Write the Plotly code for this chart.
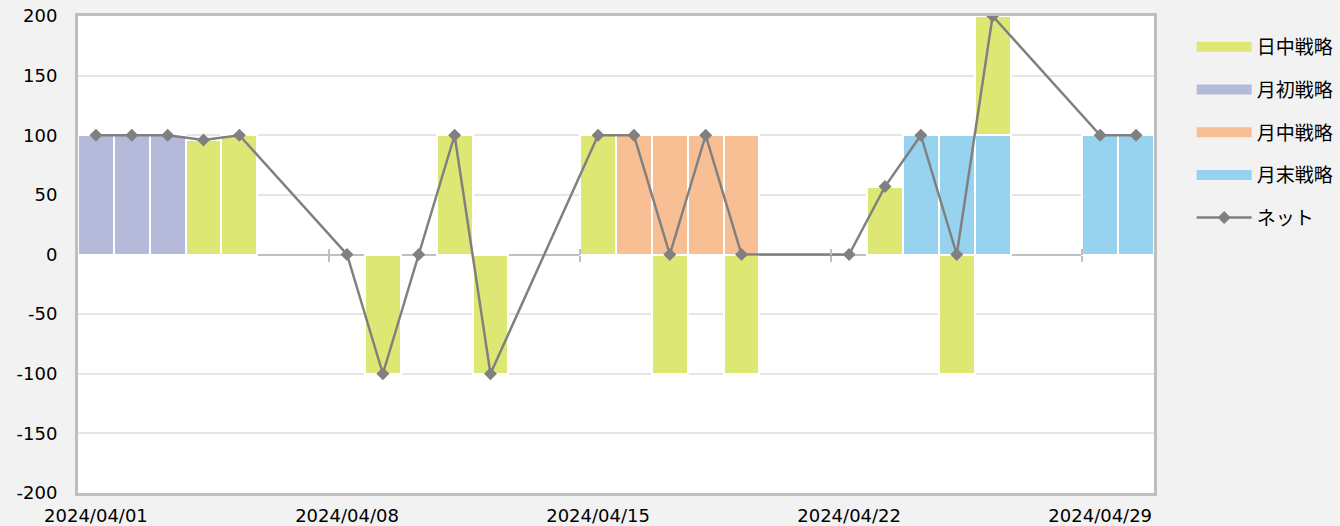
import plotly.graph_objects as go

dates = ["2024-04-01", "2024-04-02", "2024-04-03", "2024-04-04", "2024-04-05",
         "2024-04-08", "2024-04-09", "2024-04-10", "2024-04-11", "2024-04-12",
         "2024-04-15", "2024-04-16", "2024-04-17", "2024-04-18", "2024-04-19",
         "2024-04-22", "2024-04-23", "2024-04-24", "2024-04-25", "2024-04-26",
         "2024-04-29", "2024-04-30"]
nikka = [0, 0, 0, 96, 100, 0, -100, 0, 100, -100, 100, 0, -100, 0, -100, 0, 57, 0, -100, 100, 0, 0]
getsusho = [100, 100, 100, 0, 0, 0, 0, 0, 0, 0, 0, 0, 0, 0, 0, 0, 0, 0, 0, 0, 0, 0]
getchu = [0, 0, 0, 0, 0, 0, 0, 0, 0, 0, 0, 100, 100, 100, 100, 0, 0, 0, 0, 0, 0, 0]
getsumatsu = [0, 0, 0, 0, 0, 0, 0, 0, 0, 0, 0, 0, 0, 0, 0, 0, 0, 100, 100, 100, 100, 100]
net = [100, 100, 100, 96, 100, 0, -100, 0, 100, -100, 100, 100, 0, 100, 0, 0, 57, 100, 0, 200, 100, 100]

series_names = ["日中戦略", "月初戦略", "月中戦略", "月末戦略"]
series_vals = [nikka, getsusho, getchu, getsumatsu]
series_colors = ["#DDE874", "#B5BADB", "#F7BF93", "#97D3EE"]
stack_order = [1, 2, 3, 0]  # bottom to top

y_ticks = [200, 150, 100, 50, 0, -50, -100, -150, -200]
x_label_dates = ["2024-04-01", "2024-04-08", "2024-04-15", "2024-04-22", "2024-04-29"]
x_boundaries = ["2024-04-07 12:00", "2024-04-14 12:00", "2024-04-21 12:00", "2024-04-28 12:00"]

DAY_MS = 86400000
FONT = "DejaVu Sans"
CJK = "Noto Sans CJK JP"

fig = go.Figure()
for i in stack_order:
    name, vals, col = series_names[i], series_vals[i], series_colors[i]
    xs = [d for d, v in zip(dates, vals) if v != 0]
    ys = [v for v in vals if v != 0]
    fig.add_trace(go.Bar(x=xs, y=ys, name=name, width=DAY_MS,
                         marker=dict(color=col, line=dict(color="white", width=2)),
                         showlegend=False))
for name, col in zip(series_names, series_colors):
    # legend swatch
    fig.add_trace(go.Scatter(x=[None], y=[None], mode="lines", name=name,
                             line=dict(color=col, width=10), legendgroup=name))

fig.add_trace(go.Scatter(x=dates, y=net, mode="lines+markers", name="ネット",
                         line=dict(color="#808080", width=2.5),
                         marker=dict(symbol="diamond", size=10, color="#808080"),
                         legendgroup="net"))

# tick marks on the zero line at category boundaries
for ax in ("x2", "x3"):
    fig.add_trace(go.Scatter(x=[None], y=[None], xaxis=ax, showlegend=False, hoverinfo="skip"))

rng = ["2024-03-31 12:00", "2024-04-30 12:00"]
fig.update_layout(
    width=1340, height=526,
    barmode="relative", bargap=0,
    paper_bgcolor="#F2F2F2", plot_bgcolor="white",
    margin=dict(l=78, r=186, t=16, b=33, autoexpand=False),
    font=dict(family=FONT, size=18, color="black"),
    showlegend=True,
    legend=dict(x=1.035, xanchor="left", y=0.975, yanchor="top",
                font=dict(family=CJK, size=19, color="black"),
                tracegroupgap=15, itemwidth=55, bgcolor="rgba(0,0,0,0)"),
    xaxis=dict(type="date", range=rng, tickvals=x_label_dates, tickformat="%Y/%m/%d",
               showgrid=False, showline=True, linecolor="#BFBFBF", linewidth=3, mirror=True,
               ticks="", zeroline=False, tickfont=dict(family=FONT, size=18),
               ticklabelstandoff=4, automargin=False),
    xaxis2=dict(type="date", range=rng, overlaying="x", anchor="free", position=0.5,
                tickvals=x_boundaries, showticklabels=False, ticks="outside", ticklen=6,
                tickcolor="#BFBFBF", tickwidth=2, showgrid=False, showline=False, zeroline=False),
    xaxis3=dict(type="date", range=rng, overlaying="x", anchor="free", position=0.5,
                tickvals=x_boundaries, showticklabels=False, ticks="inside", ticklen=6,
                tickcolor="#BFBFBF", tickwidth=2, showgrid=False, showline=False, zeroline=False),
    yaxis=dict(range=[-200, 200], tickvals=y_ticks, ticktext=[str(v) for v in y_ticks],
               showgrid=True, gridcolor="#E6E6E6", gridwidth=1.5,
               zeroline=True, zerolinecolor="#BFBFBF", zerolinewidth=2,
               showline=True, linecolor="#BFBFBF", linewidth=3, mirror=True,
               ticks="outside", ticklen=14, tickcolor="rgba(0,0,0,0)",
               tickfont=dict(family=FONT, size=18), automargin=False),
)

fig.write_html("out.html", config={"displayModeBar": False},
               post_script="document.body.style.margin='0';document.body.style.background='#F2F2F2';")
